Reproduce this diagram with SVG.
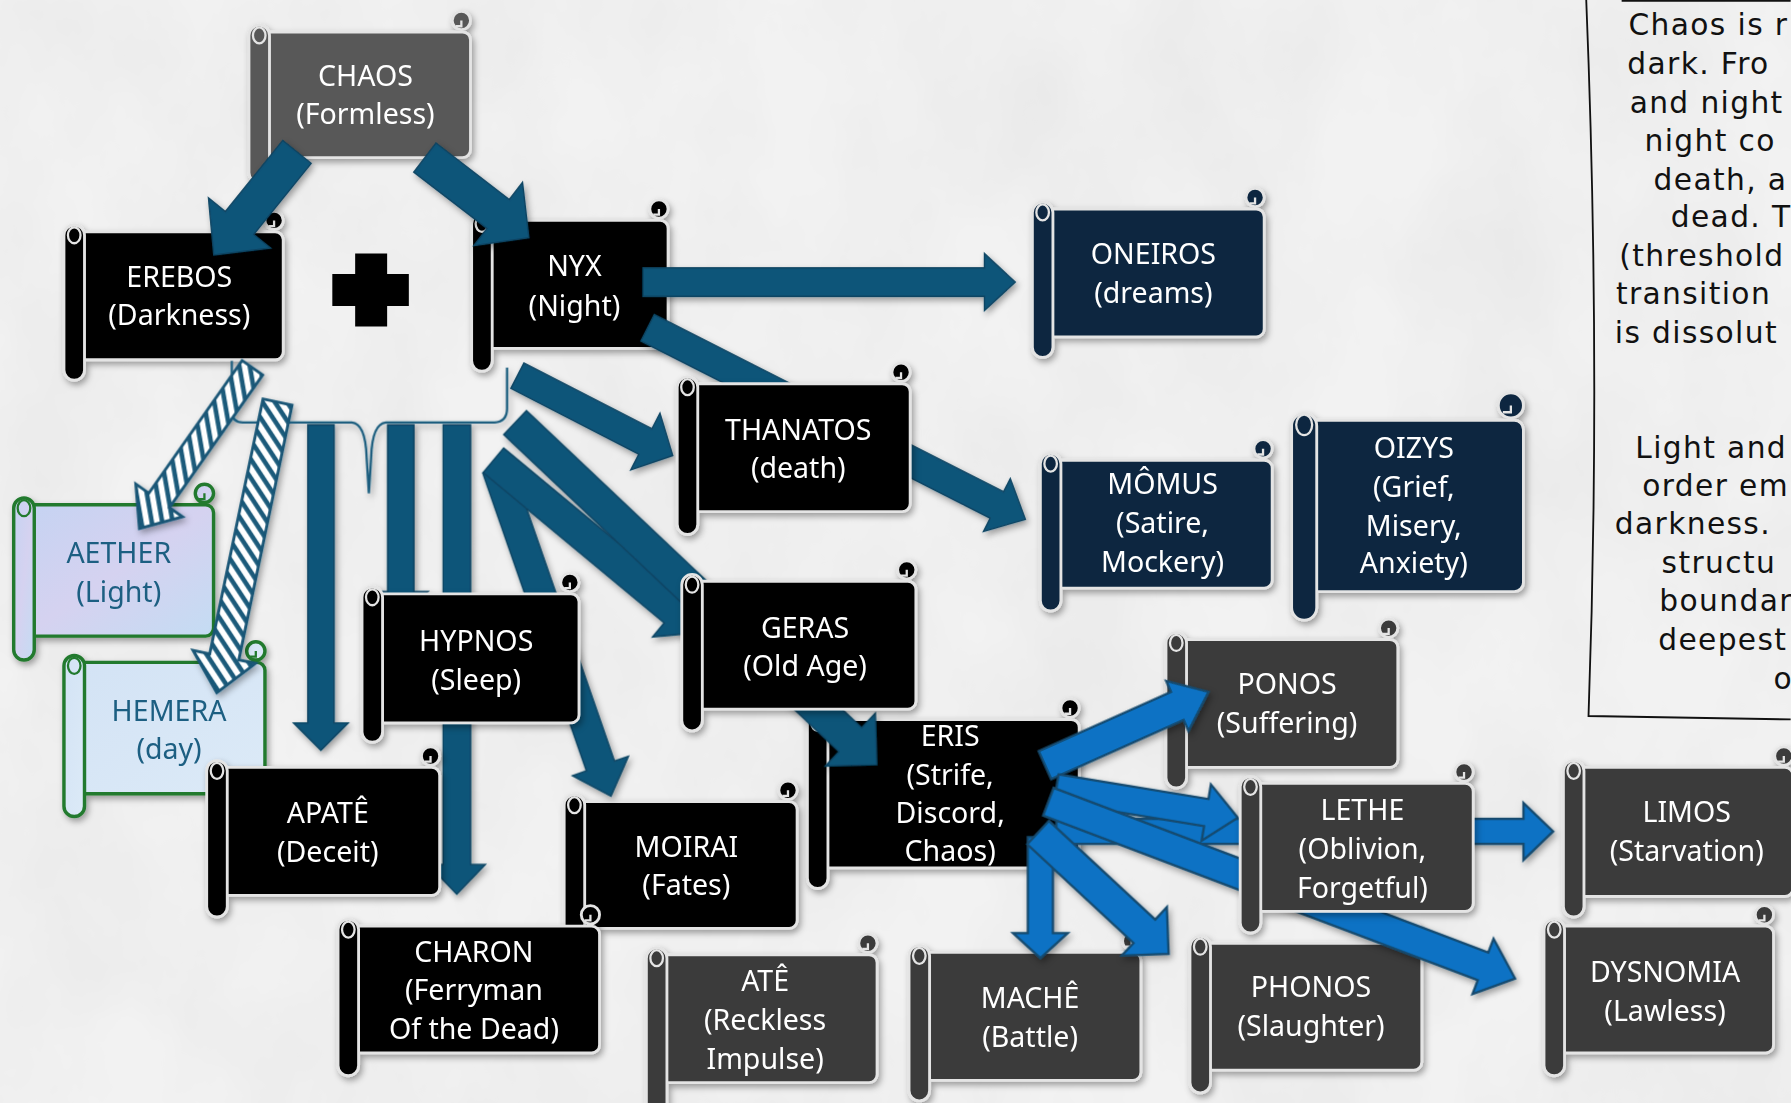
<svg xmlns="http://www.w3.org/2000/svg" width="1791" height="1103" viewBox="0 0 1791 1103">
<defs>
<style>
.n rect,.n circle{stroke:#e4e4e4;stroke-width:2.5}
.black rect,.black circle{fill:#000}
.navy rect,.navy circle{fill:#0e2841}
.gray rect,.gray circle{fill:#595959}
.dgray rect,.dgray circle{fill:#3a3a3a}
.light rect,.light circle{stroke:#237a2e;stroke-width:3}
.aether rect,.aether circle{fill:url(#gAether)}
.hemera rect,.hemera circle{fill:url(#gHemera)}
.n .loop,.n .hook{fill:none;stroke:#e4e4e4;stroke-width:2}
.light .loop,.light .hook{stroke:#237a2e}
.n text{fill:#fff;font-family:"Noto Sans","Open Sans","Liberation Sans",sans-serif;font-size:25px;text-anchor:middle}
.light text{fill:#1d5f82}
.ar{fill:#0b5479;stroke:#0a4462;stroke-width:1.2}
.ae{fill:#0872c4;stroke:#154a6e;stroke-width:2}
.as{fill:url(#stripes);stroke:#1a5676;stroke-width:2.5}
.brace{fill:none;stroke:#1b5d7e;stroke-width:2}
.note{font-family:"DejaVu Sans","Liberation Sans",sans-serif;font-size:26px;fill:#111;letter-spacing:1.2px}
</style>
<filter id="sh" x="-20%" y="-20%" width="140%" height="140%"><feDropShadow dx="2" dy="3" stdDeviation="3" flood-color="#000" flood-opacity="0.35"/></filter>
<filter id="marble" x="0" y="0" width="100%" height="100%"><feTurbulence type="fractalNoise" baseFrequency="0.007 0.005" numOctaves="5" seed="7"/><feColorMatrix type="matrix" values="0 0 0 0 0.55  0 0 0 0 0.55  0 0 0 0 0.55  0.3 0 0 0 -0.09"/></filter>
<linearGradient id="gAether" x1="0" y1="0" x2="1" y2="1"><stop offset="0" stop-color="#c5d3f2"/><stop offset="0.5" stop-color="#d5d2f0"/><stop offset="1" stop-color="#c4dcf3"/></linearGradient>
<linearGradient id="gHemera" x1="0" y1="0" x2="1" y2="1"><stop offset="0" stop-color="#d3e3f5"/><stop offset="1" stop-color="#dceaf7"/></linearGradient>
<pattern id="stripes" patternUnits="userSpaceOnUse" width="9" height="9" patternTransform="rotate(45)"><rect width="9" height="9" fill="#fff"/><rect width="4" height="9" fill="#1a5a7a"/></pattern>
</defs>
<rect width="1791" height="1103" fill="#f2f2f2"/>
<rect width="1791" height="1103" filter="url(#marble)"/>
<g transform="scale(1.142)">
<g id="note">
<path d="M1389,0 Q1402,320 1391,627 L1568,630 M1420,0.8 H1568" fill="none" stroke="#111" stroke-width="1.6"/>
<text class="note" x="1426" y="31">Chaos is r</text>
<text class="note" x="1425" y="65">dark. Fro</text>
<text class="note" x="1427" y="99">and night</text>
<text class="note" x="1440" y="132">night co</text>
<text class="note" x="1448" y="166">death, a</text>
<text class="note" x="1463" y="199">dead. T</text>
<text class="note" x="1418" y="233">(threshold</text>
<text class="note" x="1415" y="266">transition</text>
<text class="note" x="1414" y="300">is dissolut</text>
<text class="note" x="1432" y="401">Light and</text>
<text class="note" x="1438" y="434">order em</text>
<text class="note" x="1414" y="468">darkness.</text>
<text class="note" x="1455" y="502">structu</text>
<text class="note" x="1453" y="535">boundar</text>
<text class="note" x="1452" y="569">deepest</text>
<text class="note" x="1553" y="603">o</text>
</g>
<g id="plus"><path d="M311,222 H339 V240 H358 V268 H339 V286 H311 V268 H291 V240 H311 Z" fill="#000"/></g>
<g id="nodes-back">
<g id="chaos" class="n gray" filter="url(#sh)"><rect x="227" y="28" width="185" height="110" rx="7"/><circle cx="404" cy="18" r="8"/><path class="hook" d="M399,23 h5 v-5"/><rect x="218" y="22" width="18" height="138" rx="9"/><ellipse class="loop" cx="227" cy="31" rx="5.5" ry="7"/><text x="320" y="75">CHAOS</text><text x="320" y="109">(Formless)</text></g>
<g id="erebos" class="n black" filter="url(#sh)"><rect x="65" y="203" width="183" height="112" rx="7"/><circle cx="240" cy="193" r="8"/><path class="hook" d="M235,198 h5 v-5"/><rect x="56" y="197" width="18" height="136" rx="9"/><ellipse class="loop" cx="65" cy="206" rx="5.5" ry="7"/><text x="157" y="251">EREBOS</text><text x="157" y="285">(Darkness)</text></g>
<g id="nyx" class="n black" filter="url(#sh)"><rect x="422" y="193" width="163" height="112" rx="7"/><circle cx="577" cy="183" r="8"/><path class="hook" d="M572,188 h5 v-5"/><rect x="413" y="187" width="18" height="138" rx="9"/><ellipse class="loop" cx="422" cy="196" rx="5.5" ry="7"/><text x="503" y="242">NYX</text><text x="503" y="277">(Night)</text></g>
<g id="oneiros" class="n navy" filter="url(#sh)"><rect x="913" y="183" width="194" height="112" rx="7"/><circle cx="1099" cy="173" r="8"/><path class="hook" d="M1094,178 h5 v-5"/><rect x="904" y="177" width="18" height="136" rx="9"/><ellipse class="loop" cx="913" cy="186" rx="5.5" ry="7"/><text x="1010" y="231">ONEIROS</text><text x="1010" y="265">(dreams)</text></g>
<g id="momus" class="n navy" filter="url(#sh)"><rect x="920" y="403" width="194" height="112" rx="7"/><circle cx="1106" cy="393" r="8"/><path class="hook" d="M1101,398 h5 v-5"/><rect x="911" y="397" width="18" height="138" rx="9"/><ellipse class="loop" cx="920" cy="406" rx="5.5" ry="7"/><text x="1018" y="433">MÔMUS</text><text x="1018" y="467">(Satire,</text><text x="1018" y="501">Mockery)</text></g>
<g id="oizys" class="n navy" filter="url(#sh)"><rect x="1142" y="368" width="192" height="150" rx="8"/><circle cx="1323" cy="355" r="11"/><path class="hook" d="M1316,361 h7 v-6"/><rect x="1131" y="362" width="22" height="181" rx="11"/><ellipse class="loop" cx="1142" cy="372" rx="7" ry="9"/><text x="1238" y="401">OIZYS</text><text x="1238" y="435">(Grief,</text><text x="1238" y="469">Misery,</text><text x="1238" y="502">Anxiety)</text></g>
<g id="aether" class="n light aether" filter="url(#sh)"><rect x="21" y="442" width="166" height="115" rx="7"/><circle cx="179" cy="432" r="8"/><path class="hook" d="M174,437 h5 v-5"/><rect x="12" y="436" width="18" height="142" rx="9"/><ellipse class="loop" cx="21" cy="445" rx="5.5" ry="7"/><text x="104" y="493">AETHER</text><text x="104" y="527">(Light)</text></g>
<g id="hemera" class="n light hemera" filter="url(#sh)"><rect x="65" y="580" width="167" height="115" rx="7"/><circle cx="224" cy="570" r="8"/><path class="hook" d="M219,575 h5 v-5"/><rect x="56" y="574" width="18" height="141" rx="9"/><ellipse class="loop" cx="65" cy="583" rx="5.5" ry="7"/><text x="148" y="631">HEMERA</text><text x="148" y="665">(day)</text></g>
<g id="ponos" class="n dgray" filter="url(#sh)"><rect x="1030" y="560" width="194" height="112" rx="7"/><circle cx="1216" cy="550" r="8"/><path class="hook" d="M1211,555 h5 v-5"/><rect x="1021" y="554" width="18" height="136" rx="9"/><ellipse class="loop" cx="1030" cy="563" rx="5.5" ry="7"/><text x="1127" y="608">PONOS</text><text x="1127" y="642">(Suffering)</text></g>
<g id="eris" class="n black" filter="url(#sh)"><rect x="716" y="630" width="229" height="130" rx="7"/><circle cx="937" cy="620" r="8"/><path class="hook" d="M932,625 h5 v-5"/><rect x="707" y="624" width="18" height="154" rx="9"/><ellipse class="loop" cx="716" cy="633" rx="5.5" ry="7"/><text x="832" y="653">ERIS</text><text x="832" y="687">(Strife,</text><text x="832" y="721">Discord,</text><text x="832" y="754">Chaos)</text></g>
<g id="moirai" class="n black" filter="url(#sh)"><rect x="503" y="702" width="195" height="111" rx="7"/><circle cx="690" cy="692" r="8"/><path class="hook" d="M685,697 h5 v-5"/><rect x="494" y="696" width="18" height="139" rx="9"/><ellipse class="loop" cx="503" cy="705" rx="5.5" ry="7"/><text x="601" y="750">MOIRAI</text><text x="601" y="784">(Fates)</text></g>
<g id="limos" class="n dgray" filter="url(#sh)"><rect x="1378" y="672" width="192" height="113" rx="7"/><circle cx="1562" cy="662" r="8"/><path class="hook" d="M1557,667 h5 v-5"/><rect x="1369" y="666" width="18" height="137" rx="9"/><ellipse class="loop" cx="1378" cy="675" rx="5.5" ry="7"/><text x="1477" y="720">LIMOS</text><text x="1477" y="754">(Starvation)</text></g>
<g id="ate" class="n dgray" filter="url(#sh)"><rect x="575" y="836" width="193" height="112" rx="7"/><circle cx="760" cy="826" r="8"/><path class="hook" d="M755,831 h5 v-5"/><rect x="566" y="830" width="18" height="150" rx="9"/><ellipse class="loop" cx="575" cy="839" rx="5.5" ry="7"/><text x="670" y="868">ATÊ</text><text x="670" y="902">(Reckless</text><text x="670" y="936">Impulse)</text></g>
<g id="mache" class="n dgray" filter="url(#sh)"><rect x="805" y="834" width="194" height="112" rx="7"/><circle cx="991" cy="824" r="8"/><path class="hook" d="M986,829 h5 v-5"/><rect x="796" y="828" width="18" height="136" rx="9"/><ellipse class="loop" cx="805" cy="837" rx="5.5" ry="7"/><text x="902" y="883">MACHÊ</text><text x="902" y="917">(Battle)</text></g>
<g id="phonos" class="n dgray" filter="url(#sh)"><rect x="1051" y="826" width="194" height="111" rx="7"/><circle cx="1237" cy="816" r="8"/><path class="hook" d="M1232,821 h5 v-5"/><rect x="1042" y="820" width="18" height="137" rx="9"/><ellipse class="loop" cx="1051" cy="829" rx="5.5" ry="7"/><text x="1148" y="873">PHONOS</text><text x="1148" y="907">(Slaughter)</text></g>
<g id="dysnomia" class="n dgray" filter="url(#sh)"><rect x="1361" y="811" width="192" height="111" rx="7"/><circle cx="1545" cy="801" r="8"/><path class="hook" d="M1540,806 h5 v-5"/><rect x="1352" y="805" width="18" height="137" rx="9"/><ellipse class="loop" cx="1361" cy="814" rx="5.5" ry="7"/><text x="1458" y="860">DYSNOMIA</text><text x="1458" y="894">(Lawless)</text></g>
</g>
<g id="connectors" filter="url(#sh)">
<path class="brace" d="M203,316 V360 Q203,370 213,370 H308 Q320,371 321,400 L323,432 L325,400 Q326,371 338,370 H433 Q444,369 444,358 V322"/>
<path class="ar" transform="translate(260,133) rotate(128.9)" d="M0,-16 H80 V-35 L116,0 L80,35 V16 H0Z"/>
<path class="ar" transform="translate(372,138) rotate(37.6)" d="M0,-16 H81 V-35 L115,0 L81,35 V16 H0Z"/>
<path class="ar" transform="translate(563,247)" d="M0,-12.5 H299 V-25 L326,0 L299,25 V12.5 H0Z"/>
<path class="ar" transform="translate(567,287) rotate(26.9)" d="M0,-13 H343 V-26 L371,0 L343,26 V13 H0Z"/>
<path class="ar" transform="translate(453,329) rotate(27.2)" d="M0,-12.5 H126 V-28 L153,0 L126,28 V12.5 H0Z"/>
<path class="ar" transform="translate(435,410) rotate(70.8)" d="M0,-13 H276 V-26 L304,0 L276,26 V13 H0Z"/>
<path class="ar" transform="translate(432,403) rotate(39.7)" d="M0,-14 H206 V-30 L236,0 L206,30 V14 H0Z"/>
<path class="ar" transform="translate(451,370) rotate(43.4)" d="M0,-14.5 H404 V-32 L436,0 L404,32 V14.5 H0Z"/>
<path class="ar" transform="translate(281,372) rotate(90)" d="M0,-11.5 H261 V-24 L285,0 L261,24 V11.5 H0Z"/>
<path class="ar" transform="translate(351,372) rotate(90)" d="M0,-11.5 H146 V-24 L169,0 L146,24 V11.5 H0Z"/>
<path class="ar" transform="translate(400,372) rotate(90)" d="M0,-12 H385 V-25 L411,0 L385,25 V12 H0Z"/>
<path class="as" transform="translate(221,322) rotate(125.1)" d="M0,-11 H142 V-25 L172,0 L142,25 V11 H0Z"/>
<path class="as" transform="translate(243,352) rotate(101.8)" d="M0,-13 H228 V-28 L260,0 L228,28 V13 H0Z"/>
<path class="ae" transform="translate(915,670) rotate(-24.1)" d="M0,-13.5 H127 V-24 L157,0 L127,24 V13.5 H0Z"/>
<path class="ae" transform="translate(925,728)" d="M0,-11 H409 V-25 L435,0 L409,25 V11 H0Z"/>
<path class="ae" transform="translate(925,690) rotate(9.3)" d="M0,-12 H133 V-25 L161,0 L133,25 V12 H0Z"/>
<path class="ae" transform="translate(918,702) rotate(20.75)" d="M0,-13 H407 V-26 L437,0 L407,26 V13 H0Z"/>
<path class="ae" transform="translate(911,733) rotate(90)" d="M0,-11 H84 V-24 L106,0 L84,24 V11 H0Z"/>
<path class="ae" transform="translate(909,729) rotate(42.9)" d="M0,-14 H127 V-29 L156,0 L127,29 V14 H0Z"/>
</g>
<g id="nodes-front">
<g id="thanatos" class="n black" filter="url(#sh)"><rect x="602" y="336" width="195" height="112" rx="7"/><circle cx="789" cy="326" r="8"/><path class="hook" d="M784,331 h5 v-5"/><rect x="593" y="330" width="18" height="138" rx="9"/><ellipse class="loop" cx="602" cy="339" rx="5.5" ry="7"/><text x="699" y="385">THANATOS</text><text x="699" y="419">(death)</text></g>
<g id="geras" class="n black" filter="url(#sh)"><rect x="606" y="509" width="196" height="112" rx="7"/><circle cx="794" cy="499" r="8"/><path class="hook" d="M789,504 h5 v-5"/><rect x="597" y="503" width="18" height="137" rx="9"/><ellipse class="loop" cx="606" cy="512" rx="5.5" ry="7"/><text x="705" y="559">GERAS</text><text x="705" y="592">(Old Age)</text></g>
<g id="hypnos" class="n black" filter="url(#sh)"><rect x="326" y="520" width="181" height="113" rx="7"/><circle cx="499" cy="510" r="8"/><path class="hook" d="M494,515 h5 v-5"/><rect x="317" y="514" width="18" height="136" rx="9"/><ellipse class="loop" cx="326" cy="523" rx="5.5" ry="7"/><text x="417" y="570">HYPNOS</text><text x="417" y="604">(Sleep)</text></g>
<g id="apate" class="n black" filter="url(#sh)"><rect x="190" y="672" width="195" height="112" rx="7"/><circle cx="377" cy="662" r="8"/><path class="hook" d="M372,667 h5 v-5"/><rect x="181" y="666" width="18" height="137" rx="9"/><ellipse class="loop" cx="190" cy="675" rx="5.5" ry="7"/><text x="287" y="721">APATÊ</text><text x="287" y="755">(Deceit)</text></g>
<g id="charon" class="n black" filter="url(#sh)"><rect x="305" y="811" width="220" height="111" rx="7"/><circle cx="517" cy="801" r="8"/><path class="hook" d="M512,806 h5 v-5"/><rect x="296" y="805" width="18" height="137" rx="9"/><ellipse class="loop" cx="305" cy="814" rx="5.5" ry="7"/><text x="415" y="842">CHARON</text><text x="415" y="876">(Ferryman</text><text x="415" y="910">Of the Dead)</text></g>
<g id="lethe" class="n dgray" filter="url(#sh)"><rect x="1095" y="686" width="195" height="112" rx="7"/><circle cx="1282" cy="676" r="8"/><path class="hook" d="M1277,681 h5 v-5"/><rect x="1086" y="680" width="18" height="137" rx="9"/><ellipse class="loop" cx="1095" cy="689" rx="5.5" ry="7"/><text x="1193" y="718">LETHE</text><text x="1193" y="752">(Oblivion,</text><text x="1193" y="786">Forgetful)</text></g>
</g>
</g>
</svg>
